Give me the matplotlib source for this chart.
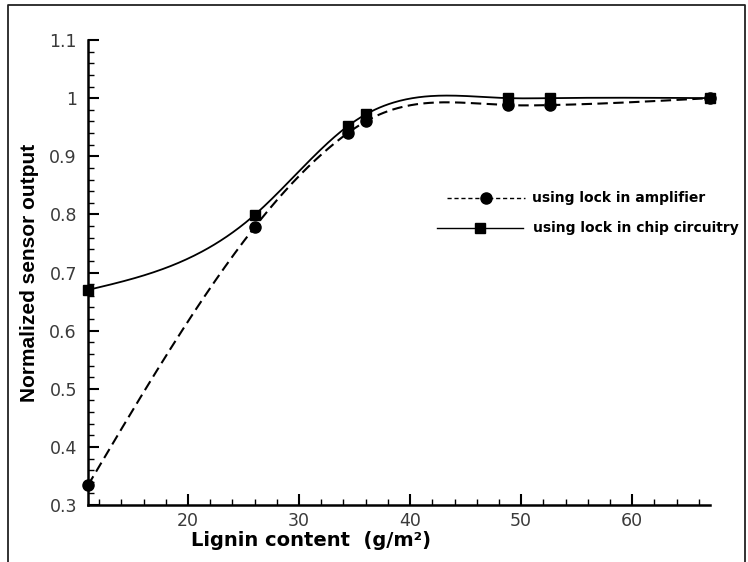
import numpy as np
import matplotlib
matplotlib.use("Agg")
import matplotlib.pyplot as plt
from matplotlib.lines import Line2D
from matplotlib.ticker import MultipleLocator

# ---- data ----
lignin = [11.0, 26.0, 34.4, 36.0, 48.8, 52.6, 67.0]
amplifier = [0.334, 0.778, 0.940, 0.960, 0.988, 0.988, 1.000]
chip = [0.670, 0.799, 0.952, 0.972, 1.000, 1.000, 1.000]
series_labels = ["using lock in amplifier", "using lock in chip circuitry"]
x_ticks = [20, 30, 40, 50, 60]
y_ticks = [0.3, 0.4, 0.5, 0.6, 0.7, 0.8, 0.9, 1.0, 1.1]
y_ticklabels = ["0.3", "0.4", "0.5", "0.6", "0.7", "0.8", "0.9", "1", "1.1"]


def natural_spline(x, y, xs):
    x = np.asarray(x, float)
    y = np.asarray(y, float)
    n = len(x)
    h = np.diff(x)
    A = np.zeros((n, n))
    rhs = np.zeros(n)
    A[0, 0] = 1
    A[-1, -1] = 1
    for i in range(1, n - 1):
        A[i, i - 1] = h[i - 1]
        A[i, i] = 2 * (h[i - 1] + h[i])
        A[i, i + 1] = h[i]
        rhs[i] = 3 * ((y[i + 1] - y[i]) / h[i] - (y[i] - y[i - 1]) / h[i - 1])
    c = np.linalg.solve(A, rhs)
    b = (y[1:] - y[:-1]) / h - h * (2 * c[:-1] + c[1:]) / 3
    d = (c[1:] - c[:-1]) / (3 * h)
    idx = np.clip(np.searchsorted(x, xs) - 1, 0, n - 2)
    dx = xs - x[idx]
    return y[idx] + b[idx] * dx + c[idx] * dx ** 2 + d[idx] * dx ** 3


W, H = 748, 562
fig = plt.figure(figsize=(W / 100, H / 100), dpi=100)
ax = fig.add_axes([88 / W, 1 - 505 / H, (710 - 88) / W, (505 - 40) / H])

xs = np.linspace(lignin[0], lignin[-1], 400)
ax.plot(xs, natural_spline(lignin, amplifier, xs), color="black", lw=1.5,
        linestyle=(0, (5, 2.6)), clip_on=False)
ax.plot(lignin, amplifier, linestyle="none", marker="o", ms=8,
        color="black", clip_on=False, zorder=5)
ax.plot(xs, natural_spline(lignin, chip, xs), color="black", lw=1.3,
        clip_on=False)
ax.plot(lignin, chip, linestyle="none", marker="s", ms=6.5,
        color="black", clip_on=False, zorder=5)

ax.set_xlim(lignin[0], lignin[-1])
ax.set_ylim(0.3, 1.1)
ax.set_xticks(x_ticks)
ax.set_yticks(y_ticks)
ax.set_yticklabels(y_ticklabels)
ax.xaxis.set_minor_locator(MultipleLocator(2))
ax.yaxis.set_minor_locator(MultipleLocator(0.02))

for s in ["top", "right"]:
    ax.spines[s].set_visible(False)
for s in ["left", "bottom"]:
    ax.spines[s].set_linewidth(1.8)

ax.tick_params(which="major", direction="in", length=8, width=1.5,
               labelsize=12.5, labelcolor="#3a3a3a", colors="black")
ax.tick_params(which="minor", direction="in", length=4, width=1.0)
ax.tick_params(axis="y", which="major", pad=8)
ax.tick_params(axis="x", which="major", pad=5)
for lab in ax.get_xticklabels() + ax.get_yticklabels():
    lab.set_fontfamily("DejaVu Sans")

ax.set_ylabel("Normalized sensor output", fontsize=15, fontweight="bold",
              family=["Liberation Sans", "DejaVu Sans"])
ax.yaxis.set_label_coords(-0.078, 0.5)

fig.text(191 / W, 1 - 546 / H, "Lignin content  (g/m²)", fontsize=14,
         fontweight="bold", family="DejaVu Sans", ha="left", va="baseline")


# legend (drawn manually)
def fx(px):
    return px / W


def fy(py):
    return 1 - py / H


fig.add_artist(Line2D([fx(447), fx(525)], [fy(198), fy(198)], color="black",
                      lw=1.0, linestyle=(0, (3, 2))))
fig.add_artist(Line2D([fx(486)], [fy(198)], marker="o", ms=8, color="black",
                      linestyle="none"))
fig.text(fx(532), fy(198), series_labels[0], fontsize=10, fontweight="bold",
         family="DejaVu Sans", ha="left", va="center")
fig.add_artist(Line2D([fx(437), fx(523)], [fy(228), fy(228)], color="black",
                      lw=1.0))
fig.add_artist(Line2D([fx(480)], [fy(228)], marker="s", ms=6.5, color="black",
                      linestyle="none"))
fig.text(fx(533), fy(228), series_labels[1], fontsize=10, fontweight="bold",
         family="DejaVu Sans", ha="left", va="center")

# outer frame (open at the bottom)
fig.add_artist(Line2D([fx(8), fx(8), fx(745), fx(745)],
                      [0, fy(5), fy(5), 0], color="#222222", lw=1.3))

fig.savefig("out.png", dpi=100)
